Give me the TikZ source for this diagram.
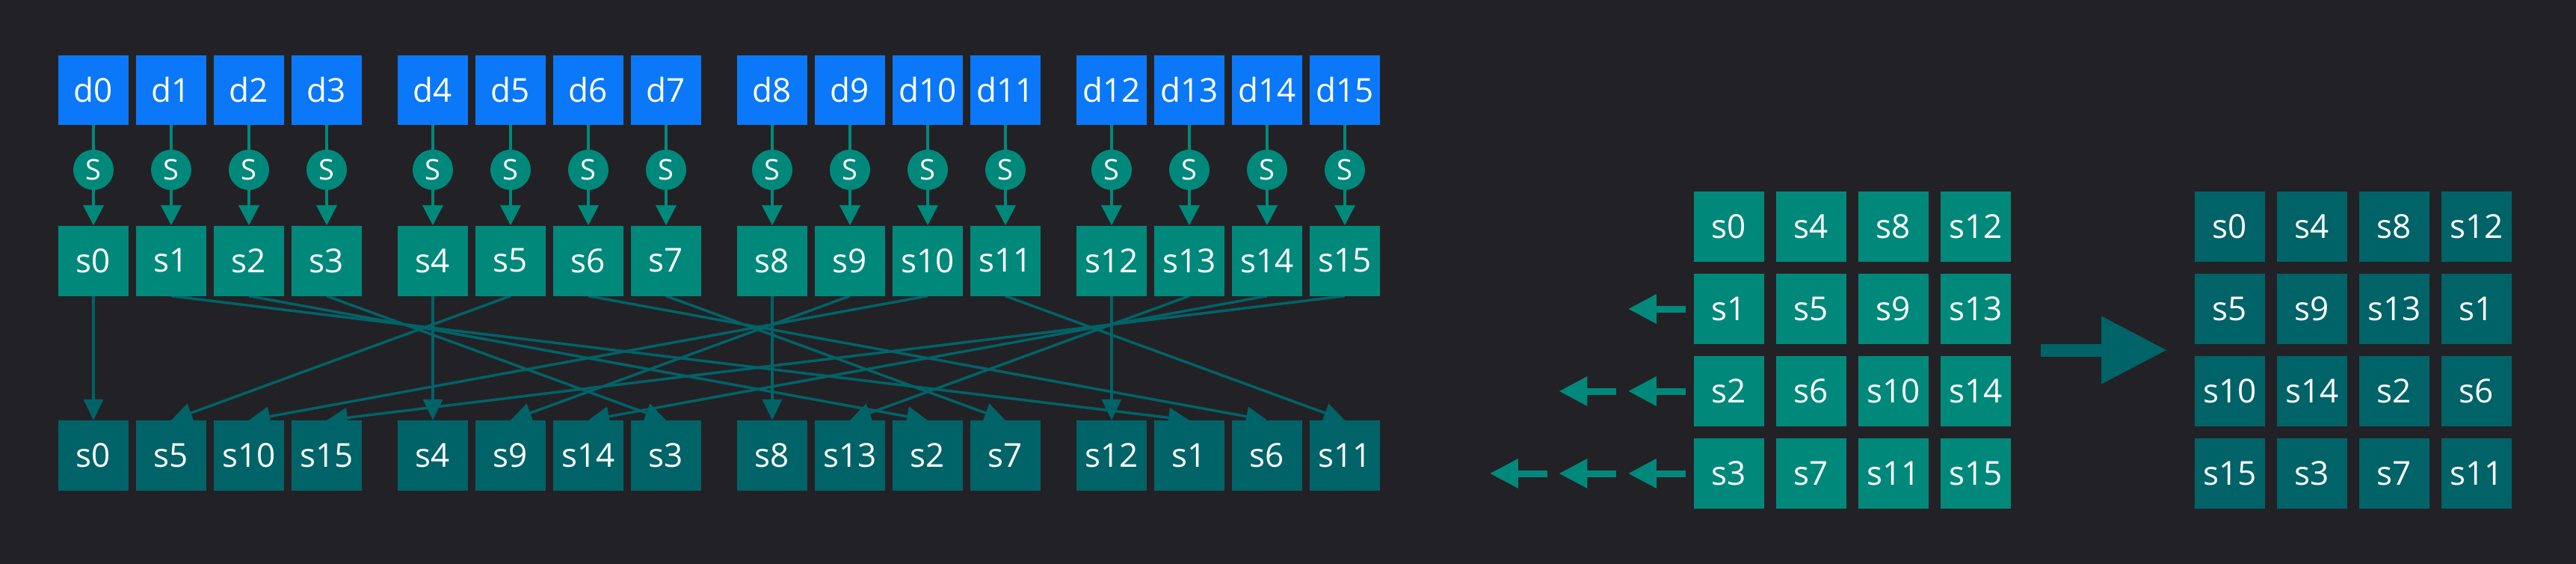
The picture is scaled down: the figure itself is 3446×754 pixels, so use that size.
\documentclass[tikz,border=0pt]{standalone}
\usepackage{fontspec}
\setmainfont{Open Sans}
\usetikzlibrary{arrows.meta}
\definecolor{bgc}{HTML}{222226}
\definecolor{blu}{HTML}{0A78F8}
\definecolor{tl}{HTML}{00897B}
\definecolor{dtl}{HTML}{006368}
\pgfdeclarelayer{bglayer}
\pgfdeclarelayer{edgelayer}
\pgfsetlayers{bglayer,edgelayer,main}
\begin{document}
\begin{tikzpicture}[x=1pt,y=-1pt,
  cellbox/.style={minimum width=94pt,minimum height=94pt,inner sep=0pt,text=white,font=\fontsize{44}{50}\selectfont},
  dbox/.style={cellbox,fill=blu,minimum height=93pt},
  sbox/.style={cellbox,fill=tl},
  obox/.style={cellbox,fill=dtl},
  snode/.style={circle,fill=tl,minimum size=54pt,inner sep=0pt,text=white,font=\fontsize{38}{42}\selectfont},
  feed/.style={draw=tl,line width=4pt},
  feedarr/.style={feed,-{Triangle[length=27pt,width=27pt]}},
  crossarr/.style={draw=dtl,line width=3.5pt,-{Triangle[length=28pt,width=26pt]}},
  shiftarr/.style={draw=tl,line width=9pt,-{Triangle[length=38pt,width=37pt]}},
  bigarr/.style={draw=dtl,line width=17pt,-{Triangle[length=88pt,width=86pt]}}
]
\begin{pgfonlayer}{bglayer}
\fill[bgc] (0,0) rectangle (3446,754);
\end{pgfonlayer}
\useasboundingbox (0,0) rectangle (3446,754);

% top rows
\foreach \i in {0,...,15} {
  \pgfmathsetmacro\cx{125+floor(\i/4)*454+mod(\i,4)*104}
  \node[dbox] (d\i) at (\cx,120.5) {d\i};
  \node[snode] (c\i) at (\cx,227) {S};
  \node[sbox] (s\i) at (\cx,348.5) {s\i};
}
% bottom row
\foreach \v [count=\j from 0] in {0,5,10,15,4,9,14,3,8,13,2,7,12,1,6,11} {
  \pgfmathsetmacro\cx{125+floor(\j/4)*454+mod(\j,4)*104}
  \node[obox] (o\v) at (\cx,609) {s\v};
}
\begin{pgfonlayer}{edgelayer}
\foreach \i in {0,...,15} {
  \draw[feed] (d\i) -- (c\i);
  \draw[feedarr] (c\i) -- (s\i);
  \draw[crossarr] (s\i.south) -- (o\i.north);
}
\end{pgfonlayer}

% left grid
\foreach \r in {0,...,3} {
  \foreach \c in {0,...,3} {
    \pgfmathtruncatemacro\v{4*\c+\r}
    \node[sbox] (g\v) at (2313+110*\c,303+110*\r) {s\v};
  }
}
% right grid
\foreach \r in {0,...,3} {
  \foreach \c in {0,...,3} {
    \pgfmathtruncatemacro\v{4*mod(\c+\r,4)+\r}
    \node[obox] (h\v) at (2983+110*\c,303+110*\r) {s\v};
  }
}
% shift arrows
\foreach \r in {1,2,3} {
  \pgfmathtruncatemacro\kmax{\r-1}
  \foreach \k in {0,...,\kmax} {
    \coordinate (ta\r-\k) at ([xshift={-(11+92.5*\k)*1pt}]g\r.west);
    \coordinate (tb\r-\k) at ([xshift={-(88+92.5*\k)*1pt}]g\r.west);
    \draw[shiftarr] (ta\r-\k) -- (tb\r-\k);
  }
}
% big arrow
\coordinate (bigA) at (2730,468);
\coordinate (bigB) at (2899,468);
\draw[bigarr] (bigA) -- (bigB);
\end{tikzpicture}
\end{document}
